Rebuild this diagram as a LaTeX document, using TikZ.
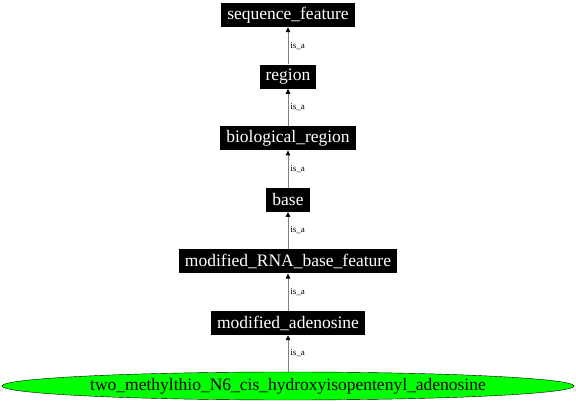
\documentclass[tikz,border=0pt]{standalone}
\usepackage{fontspec}
\setmainfont{Liberation Serif}
\usetikzlibrary{arrows.meta}
\usetikzlibrary{positioning,shapes.geometric}

\tikzset{
  term/.style={fill=black,text=white,font=\fontsize{17.5}{19}\selectfont,inner xsep=6pt,inner ysep=0pt,minimum height=24pt},
  isa/.style={draw=black!50,line width=0.9pt,-{Triangle[length=5pt,width=4.5pt,black]}},
  isalabel/.style={midway,right,font=\fontsize{9}{10}\selectfont,text=black,inner xsep=2pt}
}

\begin{document}
\begin{tikzpicture}[x=1pt,y=1pt,node distance=37.2pt]
      \useasboundingbox (0,0) rectangle (576,404);
      \node[term] (seqfeat) at (288,389) {sequence\_feature};
      \node[term,below=of seqfeat] (region) {region};
      \node[term,below=of region] (bioregion) {biological\_region};
      \node[term,below=of bioregion] (base) {base};
      \node[term,below=of base] (modrna) {modified\_RNA\_base\_feature};
      \node[term,below=of modrna] (modaden) {modified\_adenosine};
      \node[ellipse,draw=black,fill=green,font=\fontsize{17.5}{19}\selectfont,minimum width=572pt,minimum height=28pt,inner sep=0pt] (leaf) at (288,18) {two\_methylthio\_N6\_cis\_hydroxyisopentenyl\_adenosine};
      \draw[isa] (region) -- (seqfeat) node[isalabel] {is\_a};
      \draw[isa] (bioregion) -- (region) node[isalabel] {is\_a};
      \draw[isa] (base) -- (bioregion) node[isalabel] {is\_a};
      \draw[isa] (modrna) -- (base) node[isalabel] {is\_a};
      \draw[isa] (modaden) -- (modrna) node[isalabel] {is\_a};
      \draw[isa] (leaf) -- (modaden) node[isalabel] {is\_a};
    \end{tikzpicture}
\end{document}
